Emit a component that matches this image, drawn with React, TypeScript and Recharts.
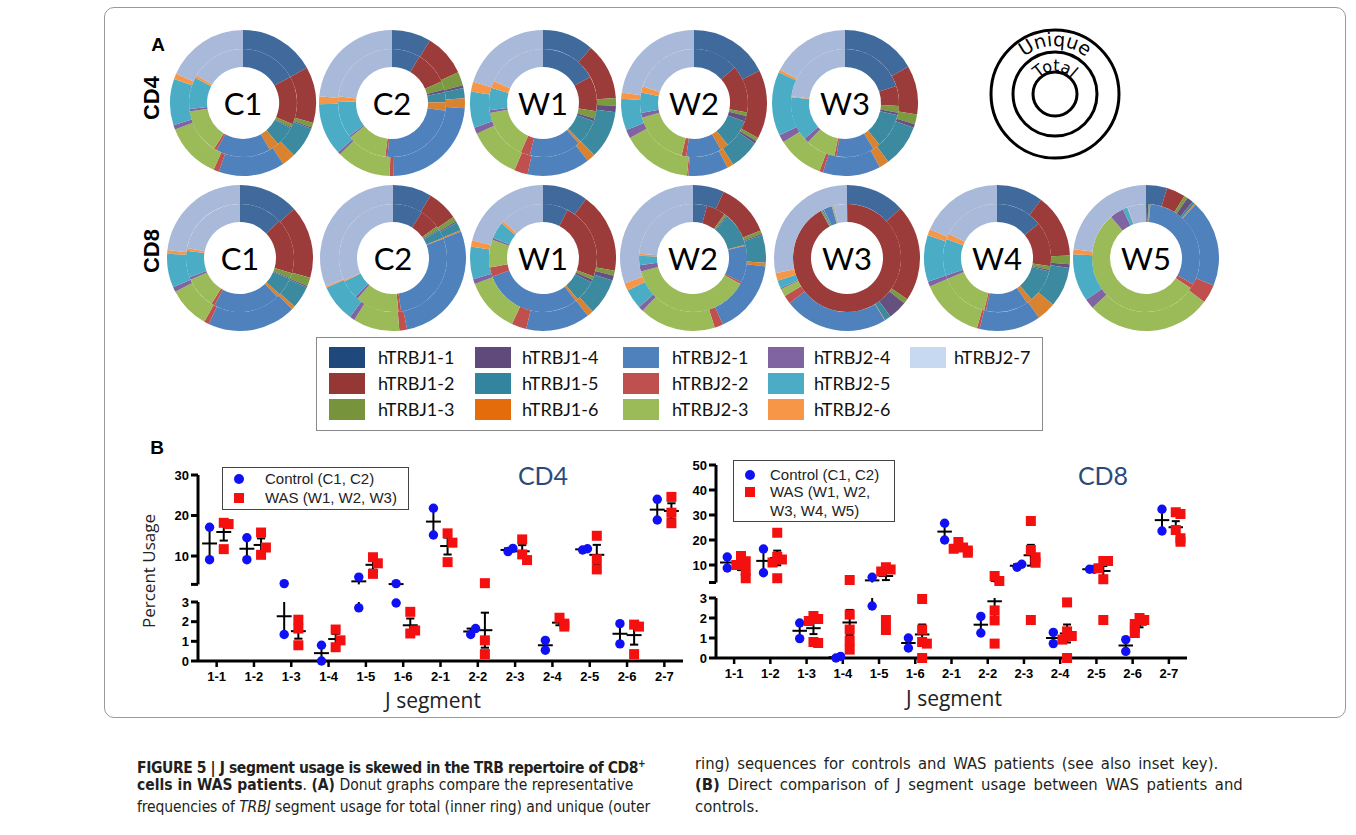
import React from 'react';
import { PieChart, Pie, Cell, ScatterChart, Scatter, XAxis, YAxis, ReferenceLine } from 'recharts';

const J_SEGMENTS = ['1-1', '1-2', '1-3', '1-4', '1-5', '1-6', '2-1', '2-2', '2-3', '2-4', '2-5', '2-6', '2-7'];
const LEGEND_NAMES = J_SEGMENTS.map((s) => `hTRBJ${s}`);

// ring colours of the donuts, and the darker swatches used in the key box
const RING_COLORS = ['#3f6a9b', '#9c3c3a', '#7b9a42', '#66507f', '#3b8a9f', '#d9822f', '#4f81bd', '#c0504d', '#9bbb59', '#8064a2', '#4bacc6', '#f79646', '#a9b9d9'];
const SWATCH_COLORS = ['#1f497d', '#953735', '#77933c', '#604a7b', '#31859c', '#e46c0a', '#4f81bd', '#c0504d', '#9bbb59', '#8064a2', '#4bacc6', '#f79646', '#c6d9f1'];

// Panel A: % usage per J segment, total = inner ring, unique = outer ring
const CD4_C1_TOTAL = [17, 14.5, 1, 0.3, 6, 3, 16.5, 0.8, 13.5, 0.8, 9.5, 0.8, 16.5];
const CD4_C1_UNIQUE = [17, 12.5, 1, 0.3, 7, 3, 14.7, 1.2, 12.5, 1, 10.3, 1.2, 18.5];
const CD4_C2_TOTAL = [8.5, 10, 2.5, 0.8, 3, 2.5, 24, 0.7, 12, 0.5, 11, 1.5, 23];
const CD4_C2_UNIQUE = [8.6, 9.3, 3, 0.6, 2.2, 2.2, 23.3, 0.8, 12, 0.6, 11.4, 1.7, 23.3];
const CD4_W1_TOTAL = [17, 10.5, 2.2, 0.8, 7.2, 0.8, 15.5, 2.8, 15.3, 0.8, 6.7, 2.2, 18.3];
const CD4_W1_UNIQUE = [11.4, 12.5, 1.7, 1.4, 10.6, 1.9, 13.9, 3, 11.7, 1.4, 8, 2.2, 20.3];
const CD4_W2_TOTAL = [13.6, 14.2, 1.1, 1.7, 8.6, 2.5, 10.6, 1.4, 16.9, 1.4, 6.1, 1.9, 20];
const CD4_W2_UNIQUE = [17.8, 15.3, 0.8, 0.6, 6.7, 1.4, 8.9, 0.3, 15.6, 1.9, 7, 1.4, 22.8];
const CD4_W3_TOTAL = [19.9, 6, 2, 0.8, 10.3, 2.2, 11.4, 0.6, 8.9, 1.4, 13.3, 0.3, 23];
const CD4_W3_UNIQUE = [16.7, 10.8, 2.2, 0.8, 9.4, 2.2, 12.8, 0.8, 10.3, 1.7, 14.2, 0.6, 17.5];

const CD8_C1_TOTAL = [13, 16.5, 1.5, 0.3, 5.5, 1, 20, 1, 9.5, 0.8, 8, 0.8, 22];
const CD8_C1_UNIQUE = [13.3, 16.1, 1.9, 0.3, 5, 0.8, 19.7, 1.1, 9.2, 1.1, 7.5, 0.8, 23.3];
const CD8_C2_TOTAL = [8.9, 6.1, 1, 0.3, 2.5, 0.3, 28.3, 0.8, 13, 0.8, 5.6, 0.3, 31.7];
const CD8_C2_UNIQUE = [8.6, 6.9, 1.1, 0.3, 1.9, 0.3, 27.8, 1.7, 10.3, 1.1, 8.3, 0.3, 31.4];
const CD8_W1_TOTAL = [7.5, 23, 1.1, 0.8, 6.4, 0.8, 29.7, 2.8, 8.3, 0.6, 5, 0.8, 13.1];
const CD8_W1_UNIQUE = [10, 17.8, 1.1, 1.1, 8.1, 1.4, 14.2, 3.3, 12.2, 1.1, 7.2, 1.4, 21.1];
const CD8_W2_TOTAL = [4.2, 5.8, 0.6, 0.3, 10.3, 0.3, 11.1, 0.6, 38.3, 1.9, 2.8, 0.6, 23.9];
const CD8_W2_UNIQUE = [6.9, 11.9, 0.8, 0.3, 6.1, 0.8, 16.4, 1.9, 16.9, 1.1, 4.4, 1.7, 30.6];
const CD8_W3_TOTAL = [0.3, 92, 0.4, 0.1, 0.4, 0.1, 2.5, 0.1, 0.2, 0.1, 0.2, 0.1, 3.9];
const CD8_W3_UNIQUE = [13.1, 21.4, 1.1, 4.2, 1.4, 0.1, 23, 1.9, 1.7, 0.3, 1.7, 1.7, 28.3];
const CD8_W4_TOTAL = [14.2, 13.6, 1.1, 0.5, 10, 1.7, 12.8, 0.6, 15, 1.1, 11.1, 1.7, 17.8];
const CD8_W4_UNIQUE = [10.3, 14.2, 1.9, 0.8, 8.9, 4.2, 13.6, 0.6, 14.2, 1.1, 10.3, 1.4, 18.6];
const CD8_W5_TOTAL = [0.3, 0.4, 0.2, 0.1, 0.2, 0.1, 32, 1.4, 54.7, 4.2, 1.4, 0.1, 5.6];
const CD8_W5_UNIQUE = [4.7, 4.2, 0.8, 1.4, 0.6, 0.3, 19.4, 4.2, 28, 2.2, 10.6, 1.1, 23.3];

const CD4_NAMES = ['C1', 'C2', 'W1', 'W2', 'W3'];
const CD4_TOTAL = [CD4_C1_TOTAL, CD4_C2_TOTAL, CD4_W1_TOTAL, CD4_W2_TOTAL, CD4_W3_TOTAL];
const CD4_UNIQUE = [CD4_C1_UNIQUE, CD4_C2_UNIQUE, CD4_W1_UNIQUE, CD4_W2_UNIQUE, CD4_W3_UNIQUE];
const CD8_NAMES = ['C1', 'C2', 'W1', 'W2', 'W3', 'W4', 'W5'];
const CD8_TOTAL = [CD8_C1_TOTAL, CD8_C2_TOTAL, CD8_W1_TOTAL, CD8_W2_TOTAL, CD8_W3_TOTAL, CD8_W4_TOTAL, CD8_W5_TOTAL];
const CD8_UNIQUE = [CD8_C1_UNIQUE, CD8_C2_UNIQUE, CD8_W1_UNIQUE, CD8_W2_UNIQUE, CD8_W3_UNIQUE, CD8_W4_UNIQUE, CD8_W5_UNIQUE];

// Panel B: percent usage per J segment, one value per donor
const CD4_CONTROL = [[17.1, 9.1], [14.5, 9.1], [3.2, 1.35], [0.8, 0], [4.8, 2.7], [3.2, 2.95], [21.8, 15.2], [1.35, 1.65], [11.1, 11.9], [0.55, 1.05], [11.5, 11.8], [1.9, 0.87], [24, 18.9]];
const CD4_WAS = [[18.2, 17.9, 11.7], [15.8, 10.3, 12.1], [2.1, 1.65, 0.8], [1.6, 0.7, 1.05], [9.7, 8.2, 5.6], [2.5, 1.4, 1.55], [15.6, 13.3, 8.5], [3.3, 1.05, 0.35], [14.1, 10.4, 9.0], [2.2, 1.9, 1.75], [15, 9.2, 6.7], [1.85, 1.75, 0.35], [24.6, 20.7, 18.1]];
const CD8_CONTROL = [[8.8, 13.2], [16.4, 6.9], [1.75, 0.97], [0, 0.08], [5.1, 2.6], [0.5, 1.0], [26.7, 20], [2.08, 1.25], [9.1, 10.3], [0.72, 1.28], [8.3, 8.3], [0.92, 0.33], [32.3, 23.6]];
const CD8_WAS = [[13.6, 11.5, 10, 7.7, 4.7], [22.9, 13.3, 12.2, 11, 4.7], [2.1, 1.95, 1.85, 0.8, 0.75], [4, 2.17, 1.42, 0.87, 0.42], [9.1, 8.2, 7.4, 1.9, 1.4], [2.95, 1.42, 0.8, 0.72, 0], [19.2, 17, 16.5, 15.8, 14.9], [5.6, 3.6, 2.38, 1.88, 0.72], [27.6, 16, 13.1, 10.9, 1.9], [2.78, 1.33, 1.1, 0.92, 0], [11.6, 11.6, 8.7, 4.3, 1.9], [2, 1.9, 1.7, 1.5, 1.25], [31.1, 30.4, 24, 20.7, 19.3]];

const CD4_UPPER_TICKS = [3, 10, 20, 30];
const CD8_UPPER_TICKS = [3, 10, 20, 30, 40, 50];
const LOWER_TICKS = [0, 1, 2, 3];
const BREAK = 3;

// layout
const CD4_X = [243, 392, 543, 694, 845];
const CD8_X = [240, 393, 543, 693, 847, 997, 1146];
const SANS = 'Lato, "Open Sans", sans-serif';
const ARIAL = '"Liberation Sans", Arial, sans-serif';
const NARROW = '"Liberation Sans Narrow", "DejaVu Sans Condensed", "Liberation Sans", sans-serif';
const CAP = 0.11;
const MEAN_HALF = 0.2;

const Donut = ({ name, total, unique, x, y }: any) => {
  const inner = total.map((v: number, i: number) => ({ name: LEGEND_NAMES[i], value: v }));
  const outer = unique.map((v: number, i: number) => ({ name: LEGEND_NAMES[i], value: v }));
  return (
    <div style={{ position: 'absolute', left: x - 75, top: y - 75, width: 150, height: 150 }}>
      <PieChart width={150} height={150} margin={{ top: 0, right: 0, bottom: 0, left: 0 }}>
        <Pie data={inner} dataKey="value" cx={75} cy={75} innerRadius={36} outerRadius={54} startAngle={90} endAngle={-270} stroke="none" isAnimationActive={false}>
          {inner.map((_: any, i: number) => <Cell key={i} fill={RING_COLORS[i]} />)}
        </Pie>
        <Pie data={outer} dataKey="value" cx={75} cy={75} innerRadius={54} outerRadius={73} startAngle={90} endAngle={-270} stroke="none" isAnimationActive={false}>
          {outer.map((_: any, i: number) => <Cell key={i} fill={RING_COLORS[i]} />)}
        </Pie>
      </PieChart>
      <div style={{ position: 'absolute', left: 0, top: 0, width: 150, height: 150, display: 'flex', alignItems: 'center', justifyContent: 'center', fontFamily: SANS, fontSize: 31, color: '#000' }}>{name}</div>
    </div>
  );
};

// nudge points sideways when they would overlap (beeswarm-like)
const near = (a: number, b: number, upperGap: number) =>
  a < BREAK && b < BREAK ? Math.abs(a - b) < 0.45 : a >= BREAK && b >= BREAK ? Math.abs(a - b) < upperGap : false;

const spreadPoints = (groups: number[][], side: number, upperGap: number) => {
  const pts: { x: number; y: number }[] = [];
  groups.forEach((vals, i) => {
    const placed: number[] = [];
    vals.forEach((v) => {
      const k = placed.filter((p) => near(p, v, upperGap)).length;
      const shift = k === 0 ? 0 : (k % 2 === 1 ? 1 : -1) * Math.ceil(k / 2) * 0.13;
      pts.push({ x: i + side + shift, y: v });
      placed.push(v);
    });
  });
  return pts;
};

const meanSem = (groups: number[][], side: number) =>
  groups.map((vals, i) => {
    const n = vals.length;
    const mean = vals.reduce((s, v) => s + v, 0) / n;
    const sd = Math.sqrt(vals.reduce((s, v) => s + (v - mean) ** 2, 0) / (n - 1));
    return { x: i + side, y: mean, err: sd / Math.sqrt(n) };
  });

// mean line + SEM whiskers, cut at the axis break
const summarySegments = (stats: { x: number; y: number; err: number }[], lo: number, hi: number) => {
  const segs: { x: number; y: number }[][] = [];
  const inside = (v: number) => v >= lo && v <= hi;
  stats.forEach(({ x, y, err }) => {
    const a = Math.max(y - err, lo);
    const b = Math.min(y + err, hi);
    if (b > a) segs.push([{ x, y: a }, { x, y: b }]);
    if (inside(y - err)) segs.push([{ x: x - CAP, y: y - err }, { x: x + CAP, y: y - err }]);
    if (inside(y + err)) segs.push([{ x: x - CAP, y: y + err }, { x: x + CAP, y: y + err }]);
    if (inside(y)) segs.push([{ x: x - MEAN_HALF, y }, { x: x + MEAN_HALF, y }]);
  });
  return segs;
};

const BlueDot = (p: any) => <circle cx={p.cx} cy={p.cy} r={4.7} fill="#1010f5" />;
const RedSquare = (p: any) => <rect x={p.cx - 5} y={p.cy - 5} width={10} height={10} fill="#f51010" />;

const AXIS_LINE = { stroke: '#000', strokeWidth: 3 };
const TICK_STYLE = { fill: '#000', fontSize: 13, fontWeight: 700, fontFamily: ARIAL };

const Half = ({ control, was, upperGap, lower, domain, ticks, plotLeft, plotRight, plotTop, plotBottom }: any) => {
  const keep = (v: number) => (lower ? v < BREAK : v >= BREAK);
  const ctrl = spreadPoints(control, -0.19, upperGap).filter((p) => keep(p.y));
  const wasPts = spreadPoints(was, 0.19, upperGap).filter((p) => keep(p.y));
  const segs = summarySegments([...meanSem(control, -0.19), ...meanSem(was, 0.19)], domain[0], domain[1]);
  const axisW = 48;
  const w = plotRight - plotLeft + axisW + 10;
  const h = plotBottom - plotTop + (lower ? 10 + 32 : 20);
  return (
    <div style={{ position: 'absolute', left: plotLeft - axisW, top: plotTop - 10 }}>
      <ScatterChart width={w} height={h} margin={{ top: 10, right: 10, bottom: lower ? 0 : 10, left: 0 }}>
        <XAxis
          type="number"
          dataKey="x"
          domain={[-0.5, 12.5]}
          ticks={J_SEGMENTS.map((_, i) => i)}
          interval={0}
          tickFormatter={(i: number) => J_SEGMENTS[i]}
          hide={!lower}
          height={32}
          axisLine={AXIS_LINE}
          tickLine={{ stroke: '#000', strokeWidth: 2.5 }}
          tickSize={6}
          tickMargin={5}
          tick={TICK_STYLE}
        />
        <YAxis
          type="number"
          dataKey="y"
          domain={domain}
          ticks={ticks}
          interval={0}
          width={axisW}
          tickFormatter={(v: number) => (!lower && v === BREAK ? '' : String(v))}
          axisLine={AXIS_LINE}
          tickLine={{ stroke: '#000', strokeWidth: 3 }}
          tickSize={7}
          tickMargin={2}
          tick={TICK_STYLE}
        />
        <Scatter data={ctrl} shape={BlueDot} isAnimationActive={false} />
        <Scatter data={wasPts} shape={RedSquare} isAnimationActive={false} />
        {segs.map((s, i) => (
          <ReferenceLine key={i} segment={s} stroke="#000" strokeWidth={2} ifOverflow="visible" />
        ))}
      </ScatterChart>
    </div>
  );
};

const UsagePlot = ({ control, was, upperGap, upperMax, upperTicks, left, right, uTop, uBottom, lTop, lBottom }: any) => (
  <>
    <Half control={control} was={was} upperGap={upperGap} lower={false} domain={[BREAK, upperMax]} ticks={upperTicks}
      plotLeft={left} plotRight={right} plotTop={uTop} plotBottom={uBottom} />
    <Half control={control} was={was} upperGap={upperGap} lower domain={[0, BREAK]} ticks={LOWER_TICKS}
      plotLeft={left} plotRight={right} plotTop={lTop} plotBottom={lBottom} />
  </>
);

const abs = (left: number, top: number, extra: any = {}) => ({ position: 'absolute' as const, left, top, ...extra });

const Rotated = ({ cx, cy, children, style }: any) => (
  <div style={{ position: 'absolute', left: cx - 100, top: cy - 20, width: 200, height: 40, lineHeight: '40px', textAlign: 'center', transform: 'rotate(-90deg)', whiteSpace: 'nowrap', ...style }}>
    {children}
  </div>
);

const Centered = ({ cx, cy, children, style }: any) => (
  <div style={{ position: 'absolute', left: cx - 150, top: cy - 20, width: 300, height: 40, lineHeight: '40px', textAlign: 'center', whiteSpace: 'nowrap', ...style }}>
    {children}
  </div>
);

const KeyRings = () => (
  <svg style={abs(985, 25)} width={140} height={140}>
    <defs>
      <path id="arc-unique" d="M 70 117 A 48 48 0 1 1 70 21 A 48 48 0 1 1 70 117" />
      <path id="arc-total" d="M 70 92 A 23 23 0 1 1 70 46 A 23 23 0 1 1 70 92" />
    </defs>
    <circle cx={70} cy={69} r={64} fill="none" stroke="#000" strokeWidth={3} />
    <circle cx={70} cy={69} r={42} fill="none" stroke="#000" strokeWidth={3} />
    <circle cx={70} cy={69} r={22} fill="none" stroke="#000" strokeWidth={3} />
    <text fontFamily='"DejaVu Sans", sans-serif' fontSize={19} fill="#000">
      <textPath href="#arc-unique" startOffset="50%" textAnchor="middle">Unique</textPath>
    </text>
    <text fontFamily='"DejaVu Sans", sans-serif' fontSize={16} fill="#000">
      <textPath href="#arc-total" startOffset="50%" textAnchor="middle">Total</textPath>
    </text>
  </svg>
);

const SWATCH_COL_X = [12, 158, 306, 451, 593];
const TEXT_COL_X = [61, 205, 355, 497, 637];
const ROW_Y = [9, 35, 61];

const SegmentKey = () => (
  <div style={{ ...abs(316, 337), width: 727, height: 94, border: '1.5px solid #8a8a8a', boxSizing: 'border-box' }}>
    {LEGEND_NAMES.map((name, i) => {
      const col = Math.floor(i / 3);
      const row = i % 3;
      return (
        <React.Fragment key={name}>
          <div style={{ ...abs(SWATCH_COL_X[col], ROW_Y[row]), width: 36, height: 21, background: SWATCH_COLORS[i] }} />
          <div style={{ ...abs(TEXT_COL_X[col], ROW_Y[row] - 2), height: 25, lineHeight: '25px', fontFamily: SANS, fontSize: 18, color: '#111', whiteSpace: 'nowrap' }}>{name}</div>
        </React.Fragment>
      );
    })}
  </div>
);

const GroupKey = ({ left, top, width, height, lines }: any) => (
  <div style={{ ...abs(left, top), width, height, border: '1.5px solid #444', boxSizing: 'border-box', fontFamily: ARIAL, fontSize: 15, color: '#222' }}>
    {lines.map((l: any, i: number) => (
      <React.Fragment key={i}>
        {l.mark === 'dot' && <div style={{ ...abs(11, l.y - 5), width: 10, height: 10, borderRadius: 5, background: '#1010f5' }} />}
        {l.mark === 'square' && <div style={{ ...abs(11, l.y - 5), width: 10, height: 10, background: '#f51010' }} />}
        <div style={{ ...abs(l.tx, l.y - 10), height: 20, lineHeight: '20px', whiteSpace: 'nowrap' }}>{l.text}</div>
      </React.Fragment>
    ))}
  </div>
);

const captionLine = (left: number, top: number, extra: any = {}) => ({
  position: 'absolute' as const, left, top, fontFamily: NARROW, fontSize: 15.5, lineHeight: '20px', color: '#231f20',
  whiteSpace: 'nowrap' as const, ...extra,
});

export default function App() {
  return (
    <div style={{ position: 'absolute', left: 0, top: 0, width: 1356, height: 835, background: '#fff', overflow: 'hidden' }}>
      <div style={{ ...abs(104, 7), width: 1242, height: 711, border: '1.5px solid #9a9a9a', borderRadius: 10, boxSizing: 'border-box' }} />

      <Centered cx={158} cy={45} style={{ fontFamily: ARIAL, fontWeight: 700, fontSize: 19 }}>A</Centered>
      <Rotated cx={152} cy={98} style={{ fontFamily: ARIAL, fontWeight: 700, fontSize: 22 }}>CD4</Rotated>
      <Rotated cx={152} cy={251} style={{ fontFamily: ARIAL, fontWeight: 700, fontSize: 22 }}>CD8</Rotated>

      {CD4_NAMES.map((n, i) => (
        <Donut key={`cd4-${n}`} name={n} total={CD4_TOTAL[i]} unique={CD4_UNIQUE[i]} x={CD4_X[i]} y={103} />
      ))}
      {CD8_NAMES.map((n, i) => (
        <Donut key={`cd8-${n}`} name={n} total={CD8_TOTAL[i]} unique={CD8_UNIQUE[i]} x={CD8_X[i]} y={258} />
      ))}
      <KeyRings />
      <SegmentKey />

      <Centered cx={157} cy={448} style={{ fontFamily: ARIAL, fontWeight: 700, fontSize: 19 }}>B</Centered>
      <Rotated cx={149} cy={571} style={{ fontFamily: '"Open Sans", sans-serif', fontSize: 17, color: '#222' }}>Percent Usage</Rotated>

      <UsagePlot control={CD4_CONTROL} was={CD4_WAS} upperGap={2.4} upperMax={30} upperTicks={CD4_UPPER_TICKS}
        left={198} right={683} uTop={475} uBottom={584.4} lTop={601.5} lBottom={660.5} />
      <UsagePlot control={CD8_CONTROL} was={CD8_WAS} upperGap={3.8} upperMax={50} upperTicks={CD8_UPPER_TICKS}
        left={716} right={1187} uTop={465} uBottom={582.5} lTop={598.3} lBottom={658.3} />

      <GroupKey left={222} top={467} width={187} height={43} lines={[
        { mark: 'dot', y: 11, tx: 42, text: 'Control (C1, C2)' },
        { mark: 'square', y: 30, tx: 42, text: 'WAS (W1, W2, W3)' },
      ]} />
      <GroupKey left={733} top={460} width={162} height={62} lines={[
        { mark: 'dot', y: 14, tx: 36, text: 'Control (C1, C2)' },
        { mark: 'square', y: 31, tx: 36, text: 'WAS (W1, W2,' },
        { y: 50, tx: 36, text: 'W3, W4, W5)' },
      ]} />

      <Centered cx={543} cy={475} style={{ fontFamily: SANS, fontSize: 25, color: '#2a4a7b' }}>CD4</Centered>
      <Centered cx={1103} cy={475} style={{ fontFamily: SANS, fontSize: 25, color: '#2a4a7b' }}>CD8</Centered>
      <Centered cx={433} cy={700} style={{ fontFamily: '"Open Sans", sans-serif', fontSize: 21, color: '#222' }}>J segment</Centered>
      <Centered cx={954} cy={698} style={{ fontFamily: '"Open Sans", sans-serif', fontSize: 21, color: '#222' }}>J segment</Centered>

      <div style={captionLine(137, 754, { letterSpacing: -0.4 })}>
        <b>FIGURE 5 | J segment usage is skewed in the TRB repertoire of CD8<sup style={{ fontSize: 10 }}>+</sup></b>
      </div>
      <div style={captionLine(137, 775)}>
        <b>cells in WAS patients</b>. <b>(A)</b> Donut graphs compare the representative
      </div>
      <div style={captionLine(137, 797, { letterSpacing: -0.1 })}>
        frequencies of <i>TRBJ</i> segment usage for total (inner ring) and unique (outer
      </div>
      <div style={captionLine(695, 754, { fontSize: 16.5, wordSpacing: 2.6 })}>
        ring) sequences for controls and WAS patients (see also inset key).
      </div>
      <div style={captionLine(695, 775, { fontSize: 16.5, wordSpacing: 3 })}>
        <b>(B)</b> Direct comparison of J segment usage between WAS patients and
      </div>
      <div style={captionLine(695, 797, { fontSize: 16.5 })}>controls.</div>
    </div>
  );
}
